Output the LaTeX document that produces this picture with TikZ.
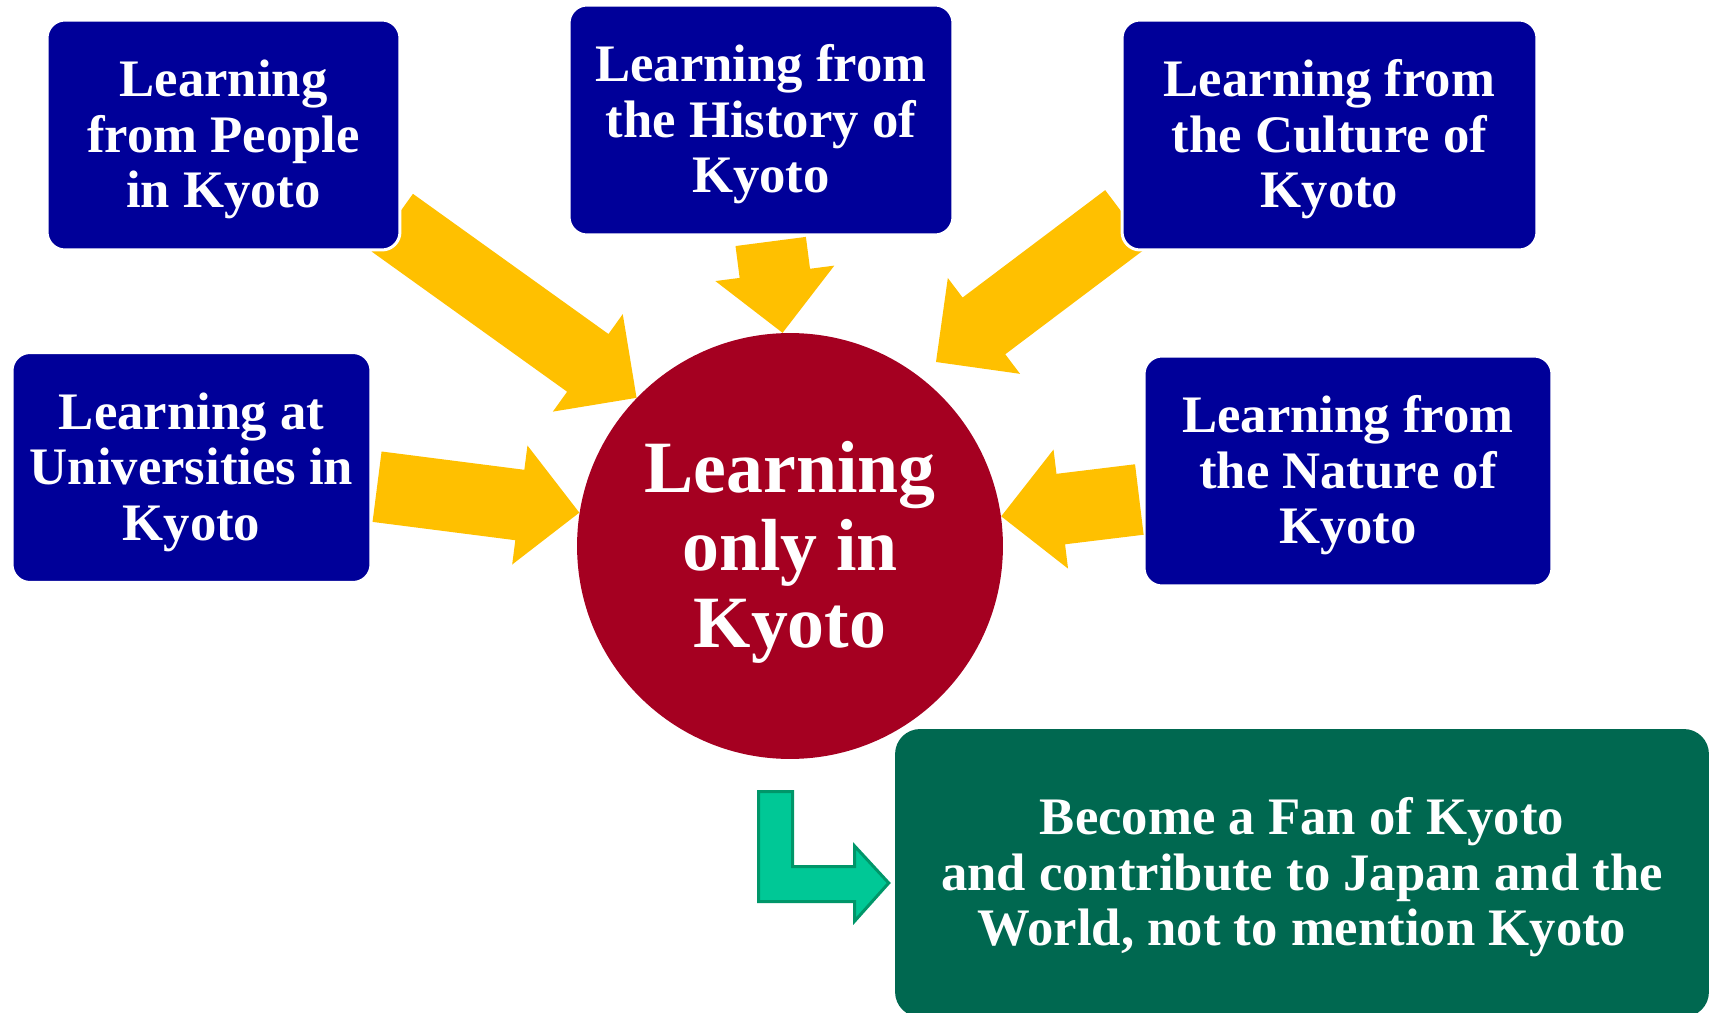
\documentclass[tikz,border=0pt]{standalone}
\usepackage{fontspec}
\setmainfont{Liberation Serif}
\usepackage{tikz}
\usetikzlibrary{shapes,calc}

\definecolor{boxblue}{RGB}{0,0,153}
\definecolor{corered}{RGB}{165,0,33}
\definecolor{goalgreen}{RGB}{0,104,80}
\definecolor{arrowyellow}{RGB}{255,192,0}
\definecolor{turnfill}{RGB}{0,200,150}
\definecolor{turnline}{RGB}{0,150,105}

\newcommand{\boxfont}{\fontsize{30}{31.7}\selectfont\bfseries}
\newcommand{\corefont}{\fontsize{42}{44.1}\selectfont\bfseries}
\newcommand{\lift}{\rule{0pt}{0.87em}}

% fat yellow arrow from #1 to #2
\newcommand{\fatarrow}[2]{%
	\coordinate (fa-h) at ($(#2)!1.2cm!(#1)$);
	\fill[arrowyellow] ($(#1)!0.71cm!90:(#2)$) -- ($(fa-h)!0.71cm!90:(#2)$) -- ($(fa-h)!1.2cm!90:(#2)$) -- (#2)
		-- ($(fa-h)!1.2cm!-90:(#2)$) -- ($(fa-h)!0.71cm!-90:(#2)$) -- ($(#1)!0.71cm!-90:(#2)$) -- cycle;}

\begin{document}
\begin{tikzpicture}[x=0.02cm,y=-0.02cm,
	box/.style={rectangle, rounded corners=0.36cm, fill=boxblue, draw=white, line width=0.06cm,
		text=white, font=\boxfont, align=center, minimum height=4.6cm, inner sep=0pt},
	core/.style={circle, fill=corered, text=white, font=\corefont, align=center, minimum size=8.52cm, inner sep=0pt},
	goal/.style={rectangle, rounded corners=0.5cm, fill=goalgreen, text=white, font=\boxfont, align=center,
		minimum width=16.28cm, minimum height=5.76cm, inner sep=0pt},
	turn/.style={fill=turnfill, draw=turnline, line width=0.06cm}]
	\useasboundingbox (0,0) rectangle (1711,1013);
	\clip (0,0) rectangle (1711,1013);

	% Center
	\node[core] (core) at (790,546) {\lift Learning\\only in\\Kyoto};

	% Boxes
	\node[box, minimum width=7.06cm] (people) at (223.5,135) {\lift Learning\\from People\\in Kyoto};
	\node[box, minimum width=7.68cm] (history) at (761,120) {\lift Learning from\\the History of\\Kyoto};
	\node[box, minimum width=8.3cm] (culture) at (1329.5,135) {\lift Learning from\\the Culture of\\Kyoto};
	\node[box, minimum width=7.18cm] (uni) at (191.5,467.5) {\lift Learning at\\Universities in\\Kyoto};
	\node[box, minimum width=8.16cm] (nature) at (1348,471) {\lift Learning from\\the Nature of\\Kyoto};

	% Goal
	\node[goal] (goal) at (1302,873) {\lift Become a Fan of Kyoto\\and contribute to Japan and the\\World, not to mention Kyoto};

	% Arrow ends
	\coordinate (people-s) at ([shift={(-9.2,-28.8)}]people.south east);
	\coordinate (history-s) at ([shift={(9.7,5)}]history.south);
	\coordinate (culture-s) at ([shift={(6,-33)}]culture.south west);
	\coordinate (uni-s) at ([shift={(4.6,19.2)}]uni.east);
	\coordinate (nature-s) at ([shift={(-3.2,28.5)}]nature.west);
	\coordinate (culture-t) at ([shift={(146,-184)}]core.center);

	% Yellow arrows
	\fatarrow{people-s}{core.136}
	\fatarrow{history-s}{core.92}
	\fatarrow{culture-s}{culture-t}
	\fatarrow{uni-s}{core.171}
	\fatarrow{nature-s}{core.8}

	% boxes again on top of arrows
	\node[box, minimum width=7.06cm] at (people) {\lift Learning\\from People\\in Kyoto};
	\node[box, minimum width=8.3cm] at (culture) {\lift Learning from\\the Culture of\\Kyoto};

	% Green turn arrow
	\coordinate (turn-s) at (775.6,791.7);
	\coordinate (turn-t) at ([shift={(-6,10)}]goal.west);
	\draw[turn] ([shift={(-17,0)}]turn-s) -- ++(34,0) -- ++(0,75) -- ++(62,0) -- ++(0,-20.7) -- (turn-t)
		-- ++(-34,38) -- ++(0,-19.3) -- ++(-96,0) -- cycle;
\end{tikzpicture}
\end{document}
